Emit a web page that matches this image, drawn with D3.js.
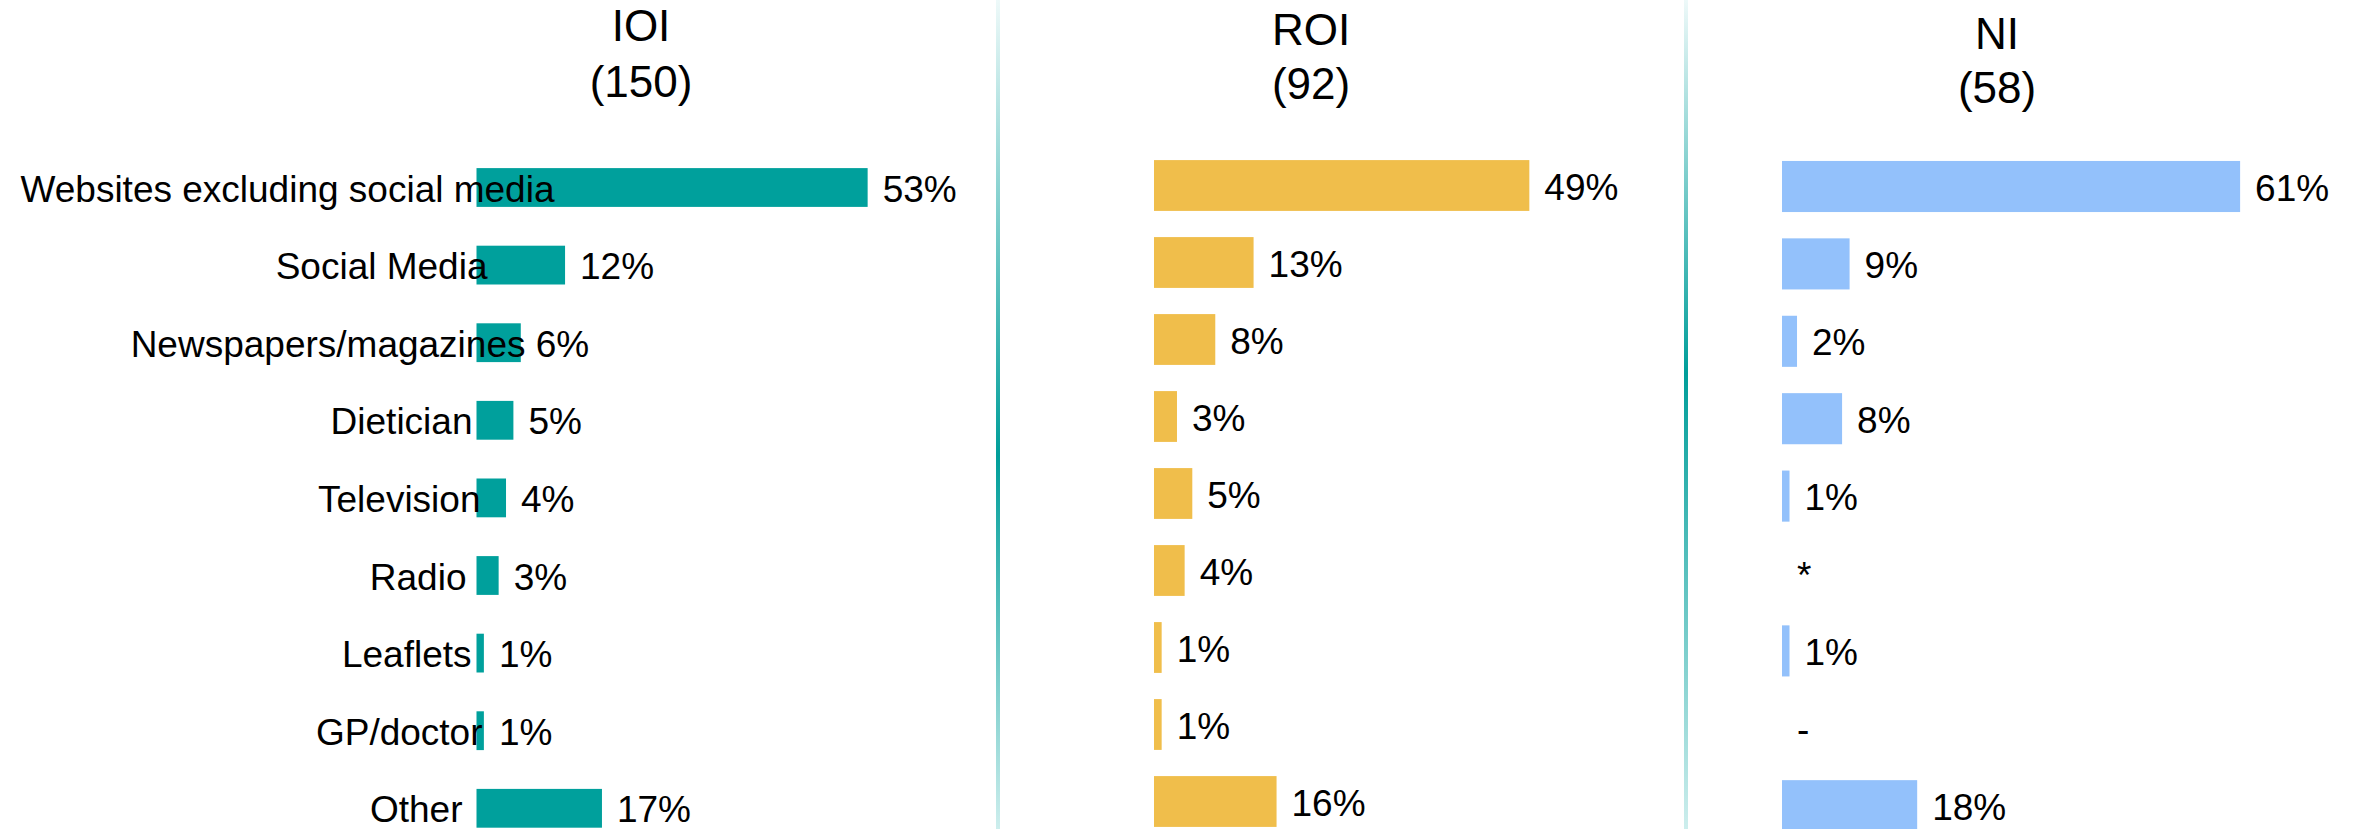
<!DOCTYPE html>
<html>
<head>
<meta charset="utf-8">
<script src="https://cdn.jsdelivr.net/npm/d3@7"></script>
<style>
  body { margin: 0; background: #fff; }
  text { font-family: "Liberation Sans", Arial, sans-serif; fill: #000; }
</style>
</head>
<body>
<div id="chart"></div>
<script>
var width = 2356,
    height = 829;

// data
var categories = ["Websites excluding social media", "Social Media", "Newspapers/magazines",
                  "Dietician", "Television", "Radio", "Leaflets", "GP/doctor", "Other"];
var regions = ["IOI", "ROI", "NI"];
var bases = [150, 92, 58];
var ioiValues = [53, 12, 6, 5, 4, 3, 1, 1, 17];
var roiValues = [49, 13, 8, 3, 5, 4, 1, 1, 16];
var niValues  = [61, 9, 2, 8, 1, 0, 1, 0, 18];
// "*" = less than 0.5%, "-" = no mentions
var niMarks   = [null, null, null, null, null, "*", null, "-", null];

// layout
var colors = ["#00a09c", "#f0be4b", "#93c1fb"];
var barStart = [476.5, 1154, 1782];
var pxPerPct = [7.38, 7.66, 7.51];
var rowRange = [[148.7, 847.1], [147, 840], [147.8, 844.4]];
var barPad = [0.5, 0.34, 0.34];
var titleX = [641, 1311, 1997];
var titleY = [[41, 97], [45, 99], [49, 103]];
var labelShift = [78, 11, 49, -4, 4, -10, -5, 6, -14];
var dividers = [{x: 998, peak: "55%"}, {x: 1686, peak: "45%"}];

var svg = d3.select("#chart").append("svg")
    .attr("width", width)
    .attr("height", height);

var defs = svg.append("defs");
dividers.forEach(function(d, i) {
  var grad = defs.append("linearGradient")
      .attr("id", "divGrad" + i)
      .attr("x1", 0).attr("y1", 0).attr("x2", 0).attr("y2", 1);
  grad.append("stop").attr("offset", "0%").attr("stop-color", "#eef9f9");
  grad.append("stop").attr("offset", d.peak).attr("stop-color", "#009e9a");
  grad.append("stop").attr("offset", "100%").attr("stop-color", "#cdeeed");
});

svg.selectAll("rect.divider")
    .data(dividers)
  .enter().append("rect")
    .attr("class", "divider")
    .attr("x", function(d) { return d.x - 2; })
    .attr("y", 0)
    .attr("width", 4)
    .attr("height", height)
    .attr("fill", function(d, i) { return "url(#divGrad" + i + ")"; });

var series = [ioiValues, roiValues, niValues];

series.forEach(function(values, p) {
  var x = d3.scaleLinear()
      .domain([0, 100])
      .range([barStart[p], barStart[p] + 100 * pxPerPct[p]]);

  var y = d3.scaleBand()
      .domain(categories)
      .range(rowRange[p])
      .paddingInner(barPad[p])
      .paddingOuter(barPad[p] / 2);

  var g = svg.append("g").attr("class", "panel-" + regions[p]);

  var title = g.append("text")
      .attr("text-anchor", "middle")
      .style("font-size", "44px");
  title.append("tspan").attr("x", titleX[p]).attr("y", titleY[p][0]).text(regions[p]);
  title.append("tspan").attr("x", titleX[p]).attr("y", titleY[p][1]).text("(" + bases[p] + ")");

  var rows = categories.map(function(c, i) {
    return { cat: c, value: values[i], mark: p === 2 ? niMarks[i] : null, i: i };
  });

  g.selectAll("rect.bar")
      .data(rows.filter(function(d) { return !d.mark; }))
    .enter().append("rect")
      .attr("class", "bar")
      .attr("x", x(0))
      .attr("y", function(d) { return y(d.cat); })
      .attr("width", function(d) { return x(d.value) - x(0); })
      .attr("height", y.bandwidth())
      .attr("fill", colors[p]);

  g.selectAll("text.value")
      .data(rows)
    .enter().append("text")
      .attr("class", "value")
      .attr("x", function(d) { return x(d.mark ? 0 : d.value) + 15; })
      .attr("y", function(d) { return y(d.cat) + y.bandwidth() / 2 + 14; })
      .style("font-size", "37px")
      .text(function(d) { return d.mark ? d.mark : d.value + "%"; });

  if (p === 0) {
    g.selectAll("text.cat")
        .data(rows)
      .enter().append("text")
        .attr("class", "cat")
        .attr("text-anchor", "end")
        .attr("x", function(d) { return x(0) + labelShift[d.i]; })
        .attr("y", function(d) { return y(d.cat) + y.bandwidth() / 2 + 14; })
        .style("font-size", "37px")
        .text(function(d) { return d.cat; });
  }
});
</script>
</body>
</html>
